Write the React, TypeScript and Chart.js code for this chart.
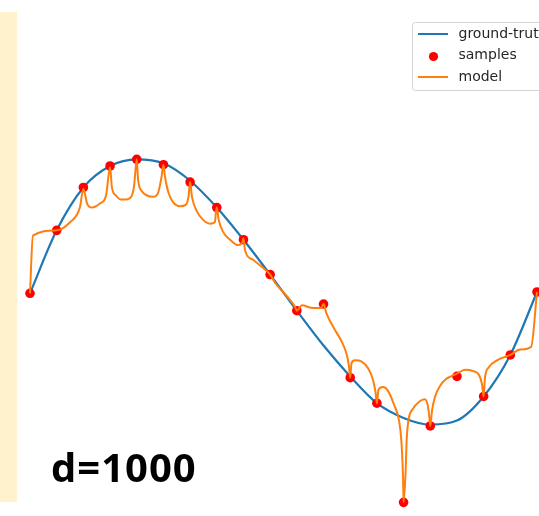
import { useEffect, useRef } from 'react';
import { Chart, registerables } from 'chart.js';

Chart.register(...registerables);

// ---- data ----
const sampleX = [0, 1, 2, 3, 4, 5, 6, 7, 8, 9, 10, 11, 12, 13, 14, 15, 16, 17, 18, 19];
const sampleY = [-0.01, 0.46, 0.78, 0.94, 0.99, 0.95, 0.82, 0.63, 0.39, 0.13, -0.14, -0.09, -0.64, -0.83, -1.57, -1.0, -0.63, -0.78, -0.47, 0.0];
const truthY = [-0.01, 0.46, 0.78, 0.94, 0.99, 0.96, 0.83, 0.63, 0.39, 0.13, -0.14, -0.4, -0.63, -0.83, -0.94, -0.99, -0.96, -0.78, -0.47, 0.0];

const modelX = [
  0, 0.11, 1, 1.5, 1.87,
  2, 2.14, 2.32, 2.62, 2.85,
  3, 3.07, 3.22, 3.41, 3.6, 3.79, 3.9,
  4, 4.05, 4.2, 4.39, 4.61, 4.8, 4.93,
  5, 5.06, 5.19, 5.36, 5.62, 5.83, 5.94,
  6, 6.07, 6.26, 6.48, 6.75, 6.93, 6.97,
  7, 7.07, 7.23, 7.5, 7.8, 7.95,
  8, 8.06, 8.36, 8.73,
  9, 9.18, 9.48, 9.75, 9.93,
  10, 10.19, 10.61, 10.91,
  11, 11.11, 11.36, 11.68, 11.86, 11.95,
  12, 12.05, 12.18, 12.43, 12.67, 12.86, 12.95,
  13, 13.06, 13.23, 13.42, 13.64, 13.83, 13.92, 13.98,
  14, 14.07, 14.12, 14.18, 14.36, 14.58, 14.79, 14.9, 14.97,
  15, 15.07, 15.18, 15.37, 15.59, 15.78,
  16, 16.3, 16.6, 16.83, 16.94,
  17, 17.05, 17.2, 17.5,
  18, 18.37, 18.78,
  19,
];
const modelY = [
  -0.01, 0.42, 0.46, 0.52, 0.63,
  0.77, 0.66, 0.63, 0.66, 0.72,
  0.93, 0.78, 0.72, 0.69, 0.69, 0.71, 0.79,
  0.99, 0.84, 0.75, 0.72, 0.71, 0.74, 0.86,
  0.95, 0.86, 0.74, 0.67, 0.64, 0.65, 0.71,
  0.82, 0.71, 0.6, 0.54, 0.51, 0.52, 0.6,
  0.63, 0.54, 0.45, 0.39, 0.35, 0.37,
  0.4, 0.31, 0.24, 0.18,
  0.13, 0.07, 0.0, -0.06, -0.11,
  -0.14, -0.1, -0.12, -0.12,
  -0.09, -0.16, -0.26, -0.37, -0.46, -0.55,
  -0.64, -0.53, -0.51, -0.52, -0.57, -0.66, -0.75,
  -0.83, -0.73, -0.71, -0.74, -0.84, -0.96, -1.12, -1.39,
  -1.57, -1.37, -1.09, -0.96, -0.87, -0.82, -0.8, -0.84, -0.94,
  -1.0, -0.88, -0.78, -0.7, -0.65, -0.63,
  -0.61, -0.58, -0.59, -0.62, -0.69,
  -0.78, -0.64, -0.56, -0.51,
  -0.47, -0.43, -0.41,
  0.0,
];

const legendLabels = ['ground-truth', 'samples', 'model'];
const panelLabel = 'd=1000';

const BLUE = '#1f77b4';
const ORANGE = '#ff7f0e';
const RED = '#ff0000';

const W = 539;
const H = 516;

const decorPlugin = {
  id: 'decor',
  beforeDraw(chart: any) {
    const ctx = chart.ctx as CanvasRenderingContext2D;
    ctx.save();
    ctx.fillStyle = '#ffffff';
    ctx.fillRect(0, 0, W, H);
    ctx.fillStyle = '#FFF2CC';
    ctx.fillRect(0, 12, 17, 490);
    ctx.restore();
  },
  afterDraw(chart: any) {
    const ctx = chart.ctx as CanvasRenderingContext2D;
    ctx.save();
    // legend frame
    const bx = 412.5, by = 22.5, bw = 160, bh = 68, r = 3;
    ctx.beginPath();
    ctx.moveTo(bx + r, by);
    ctx.lineTo(bx + bw - r, by);
    ctx.quadraticCurveTo(bx + bw, by, bx + bw, by + r);
    ctx.lineTo(bx + bw, by + bh - r);
    ctx.quadraticCurveTo(bx + bw, by + bh, bx + bw - r, by + bh);
    ctx.lineTo(bx + r, by + bh);
    ctx.quadraticCurveTo(bx, by + bh, bx, by + bh - r);
    ctx.lineTo(bx, by + r);
    ctx.quadraticCurveTo(bx, by, bx + r, by);
    ctx.closePath();
    ctx.fillStyle = 'rgba(255,255,255,0.85)';
    ctx.fill();
    ctx.strokeStyle = '#d4d4d4';
    ctx.lineWidth = 1;
    ctx.stroke();

    const rows = [34, 55.5, 77];
    const datasets = chart.data.datasets;
    legendLabels.forEach((label, i) => {
      const ds = datasets.find((d: any) => d.label === label);
      const y = rows[i];
      if (ds.type === 'line') {
        ctx.beginPath();
        ctx.moveTo(418, y);
        ctx.lineTo(448, y);
        ctx.strokeStyle = ds.borderColor;
        ctx.lineWidth = 2;
        ctx.stroke();
      } else {
        ctx.beginPath();
        ctx.arc(433.5, y + 1, 4.6, 0, Math.PI * 2);
        ctx.fillStyle = ds.backgroundColor;
        ctx.fill();
      }
      ctx.fillStyle = '#262626';
      ctx.font = '14px "DejaVu Sans"';
      ctx.textBaseline = 'middle';
      ctx.textAlign = 'left';
      ctx.fillText(label, 458.5, y);
    });

    // panel label
    ctx.fillStyle = '#000000';
    ctx.font = 'bold 40px "Open Sans"';
    (ctx as any).letterSpacing = '1px';
    ctx.textBaseline = 'alphabetic';
    ctx.fillText(panelLabel, 51, 482);
    ctx.restore();
  },
};

// axis range chosen so the samples land where the reference puts them
const X_MIN = -1.124;
const X_MAX = 19.075;
const Y_MIN = -1.672;
const Y_MAX = 2.179;

export default function App() {
  const ref = useRef<HTMLCanvasElement>(null);
  useEffect(() => {
    if (!ref.current) return;
    const chart = new Chart(ref.current, {
      type: 'scatter',
      data: {
        datasets: [
          {
            type: 'line',
            label: 'model',
            data: modelX.map((x, i) => ({ x, y: modelY[i] })),
            borderColor: ORANGE,
            borderWidth: 2,
            pointRadius: 0,
            cubicInterpolationMode: 'monotone',
            fill: false,
            order: 0,
          } as any,
          {
            type: 'scatter',
            label: 'samples',
            data: sampleX.map((x, i) => ({ x, y: sampleY[i] })),
            backgroundColor: RED,
            borderColor: RED,
            borderWidth: 0,
            pointRadius: 4.8,
            order: 1,
          } as any,
          {
            type: 'line',
            label: 'ground-truth',
            data: sampleX.map((x, i) => ({ x, y: truthY[i] })),
            borderColor: BLUE,
            borderWidth: 2.2,
            pointRadius: 0,
            cubicInterpolationMode: 'monotone',
            fill: false,
            order: 2,
          } as any,
        ],
      },
      options: {
        animation: false,
        responsive: false,
        devicePixelRatio: 1,
        events: [],
        layout: { padding: 0, autoPadding: false },
        plugins: { legend: { display: false }, tooltip: { enabled: false }, title: { display: false } },
        scales: {
          x: { type: 'linear', min: X_MIN, max: X_MAX, display: false },
          y: { type: 'linear', min: Y_MIN, max: Y_MAX, display: false },
        },
      },
      plugins: [decorPlugin],
    });
    return () => chart.destroy();
  }, []);
  return (
    <div style={{ position: 'absolute', left: 0, top: 0, width: W, height: H }}>
      <canvas ref={ref} width={W} height={H} style={{ display: 'block', width: W, height: H }} />
    </div>
  );
}
